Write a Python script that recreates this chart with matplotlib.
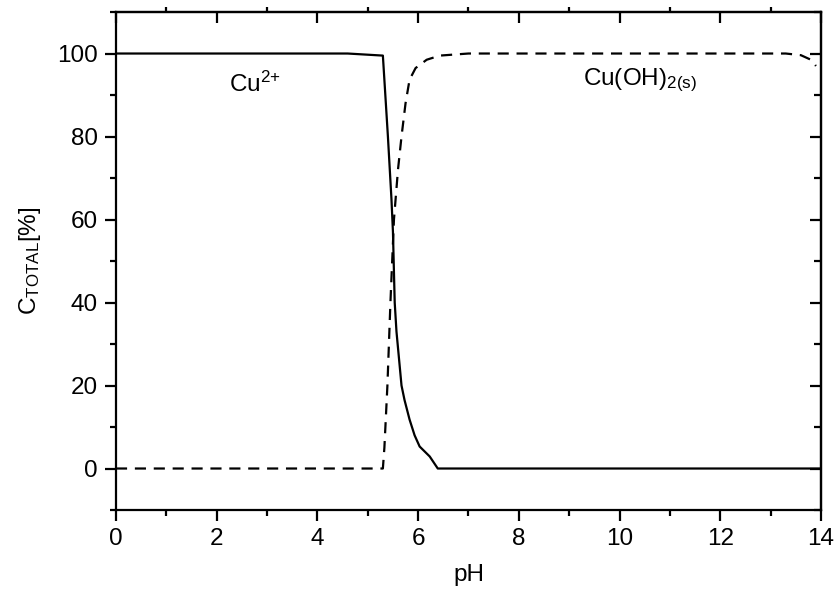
import numpy as np
import matplotlib
matplotlib.use("Agg")
import matplotlib.pyplot as plt
from matplotlib.ticker import MultipleLocator

plt.rcParams['font.family'] = ['Liberation Sans', 'DejaVu Sans']
plt.rcParams['mathtext.default'] = 'regular'

# Cu2+ fraction (solid line)
ph_cu = [0, 4.6, 5.30, 5.40, 5.47, 5.50, 5.535, 5.57, 5.67, 5.73, 5.83, 5.93, 6.03, 6.23, 6.39, 14]
cu = [100, 100, 99.5, 80, 65, 57, 40, 33, 20, 16.5, 11.8, 8, 5.3, 2.9, 0, 0]

# Cu(OH)2(s) fraction (dashed line)
ph_oh = [0, 5.30, 5.33, 5.39, 5.45, 5.52, 5.60, 5.67, 5.75, 5.83, 5.95, 6.17, 6.43, 7.0, 13.3, 13.6, 13.8, 13.9]
oh = [0, 0, 5, 20, 40, 60, 72, 80, 88, 93.7, 96.5, 98.5, 99.5, 100, 100, 99.6, 98.5, 97]

fs = 17.5

fig = plt.figure(figsize=(8.38, 5.92), dpi=100)
ax = fig.add_axes([0.1384, 0.1385, 0.8413, 0.8412])

ax.plot(ph_cu, cu, color='black', lw=1.6)
ax.plot(ph_oh, oh, color='black', lw=1.6, linestyle=(0, (5, 3.5)))

ax.set_xlim(0, 14)
ax.set_ylim(-10, 110)
ax.xaxis.set_major_locator(MultipleLocator(2))
ax.xaxis.set_minor_locator(MultipleLocator(1))
ax.set_yticks([0, 20, 40, 60, 80, 100])
ax.yaxis.set_minor_locator(MultipleLocator(10))

ax.tick_params(which='major', direction='out', length=8, width=1.6, labelsize=fs, pad=5)
ax.tick_params(which='minor', direction='out', length=4.5, width=1.6)
for s in ax.spines.values():
    s.set_linewidth(1.6)

# mirrored axes on top/right
top = ax.secondary_xaxis('top')
top.xaxis.set_major_locator(MultipleLocator(2))
top.xaxis.set_minor_locator(MultipleLocator(1))
top.tick_params(which='major', direction='in', length=8, width=1.6, labeltop=False)
top.tick_params(which='minor', direction='out', length=3.5, width=1.6)
top.spines['top'].set_linewidth(1.6)

right = ax.secondary_yaxis('right')
right.yaxis.set_major_locator(MultipleLocator(20))
right.yaxis.set_minor_locator(MultipleLocator(10))
right.tick_params(which='major', direction='in', length=8, width=1.6, labelright=False)
right.tick_params(which='minor', direction='in', length=5, width=1.6)
right.spines['right'].set_linewidth(1.6)

ax.set_xlabel('pH', fontsize=fs, labelpad=10)
ax.set_ylabel('C$_{TOTAL}$[%]', fontsize=fs, labelpad=10)

ax.text(2.25, 92.5, 'Cu$^{2{+}}$', fontsize=fs, ha='left', va='center')
ax.text(9.27, 93.5, 'Cu(OH)$_{2(s)}$', fontsize=fs, ha='left', va='center')

fig.savefig('out.png', dpi=100)
